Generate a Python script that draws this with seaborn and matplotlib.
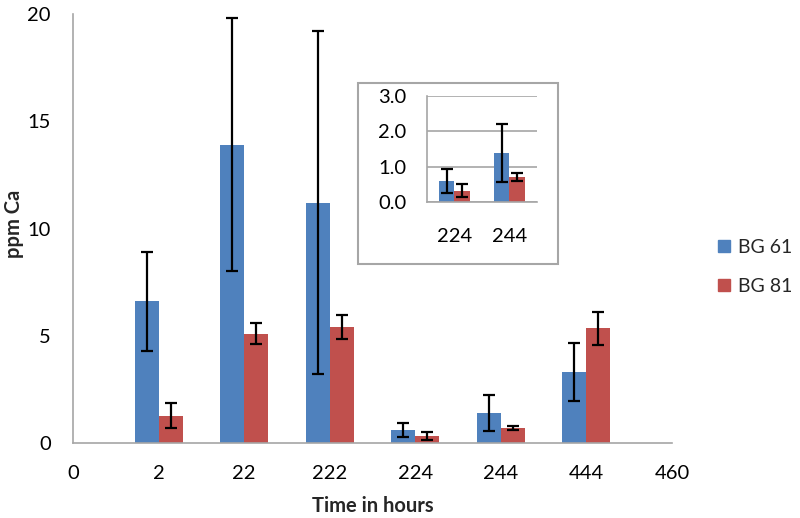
import matplotlib
matplotlib.use("Agg")
import matplotlib.pyplot as plt
import seaborn as sns
import numpy as np
import pandas as pd
from matplotlib.lines import Line2D
from matplotlib.patches import Rectangle

hours = ["0", "2", "22", "222", "224", "244", "444", "460"]
bg61 = [0, 6.6, 13.9, 11.2, 0.6, 1.4, 3.3, 0]
bg81 = [0, 1.28, 5.1, 5.4, 0.32, 0.7, 5.35, 0]
err61 = [0, 2.3, 5.9, 8.0, 0.34, 0.82, 1.35, 0]
err81 = [0, 0.6, 0.5, 0.55, 0.18, 0.11, 0.77, 0]
series = ["BG 61", "BG 81"]
inset_hours = ["224", "244"]

BLUE = "#4F81BD"
RED = "#C0504D"
GREY = "#A6A6A6"

sns.set_style("white")
plt.rcParams["font.family"] = ["Lato", "DejaVu Sans"]
plt.rcParams["font.size"] = 14.5

df = pd.DataFrame({
    "hours": hours * 2,
    "ppm": bg61 + bg81,
    "err": err61 + err81,
    "series": [series[0]] * len(hours) + [series[1]] * len(hours),
})


def draw_bars(ax, data, width):
    sns.barplot(data=data, x="hours", y="ppm", hue="series", order=list(data["hours"].unique()),
                hue_order=series, palette=[BLUE, RED], width=width, gap=0,
                saturation=1, errorbar=None, legend=False, linewidth=0, ax=ax)
    for container, name in zip(ax.containers, series):
        sub = data[data["series"] == name]
        for bar, val, err in zip(container, sub["ppm"], sub["err"]):
            if err > 0:
                ax.errorbar(bar.get_x() + bar.get_width() / 2, val, yerr=err,
                            fmt="none", ecolor="black", elinewidth=1.6,
                            capsize=4, capthick=1.6, zorder=5)


def style_axes(ax):
    sns.despine(ax=ax)
    for side in ["left", "bottom"]:
        ax.spines[side].set_color(GREY)
        ax.spines[side].set_linewidth(1.2)
    ax.tick_params(axis="both", which="both", direction="out", color=GREY,
                   width=1.2, length=5, labelcolor="black")
    ax.set_xlabel("")
    ax.set_ylabel("")


fig = plt.figure(figsize=(8, 5.18), dpi=100)

# main chart
ax = fig.add_axes([73 / 800, 75 / 518, 599 / 800, 429 / 518])
draw_bars(ax, df, 0.56)
style_axes(ax)
ax.set_xlim(0, len(hours) - 1)
ax.set_ylim(0, 20)
ax.set_yticks([0, 5, 10, 15, 20])
ax.tick_params(axis="x", pad=11)
ax.tick_params(axis="y", pad=11)
ax.set_xlabel("Time in hours", fontweight="bold", labelpad=10)
ax.set_ylabel("ppm Ca", fontweight="bold")
ax.yaxis.set_label_coords(-0.082, 0.51)

# inset
inset_df = df[df["hours"].isin(inset_hours)]
axi = fig.add_axes([427 / 800, 316 / 518, 110 / 800, 106 / 518])
draw_bars(axi, inset_df, 0.58)
style_axes(axi)
axi.set_xlim(-0.5, 1.5)
axi.set_ylim(0, 3)
axi.set_yticks([0, 1, 2, 3])
axi.set_yticklabels([f"{v:.1f}" for v in [0, 1, 2, 3]])
axi.set_xticks([-0.5, 0.5, 1.5])
axi.set_xticklabels([])
axi.set_xticks([0, 1], minor=True)
axi.set_xticklabels(inset_hours, minor=True)
axi.tick_params(axis="x", which="minor", length=0, pad=19)
axi.tick_params(axis="y", pad=10)
axi.yaxis.grid(True, color=GREY, linewidth=1.2)
axi.set_axisbelow(True)
axi.patch.set_alpha(0)

fig.add_artist(Rectangle((358 / 800, 254 / 518), 200 / 800, 181 / 518,
                         transform=fig.transFigure, fill=False,
                         edgecolor=GREY, linewidth=1.5))

# legend
handles = [Line2D([], [], marker="s", linestyle="none", markersize=9,
                  markerfacecolor=c, markeredgecolor=c) for c in [BLUE, RED]]
fig.legend(handles, series, loc="center left", bbox_to_anchor=(716 / 800, 1 - 267 / 518),
           frameon=False, borderpad=0, borderaxespad=0, handlelength=0.8,
           handletextpad=0.35, labelspacing=1.15, fontsize=14)

fig.savefig("out.png", dpi=100)
